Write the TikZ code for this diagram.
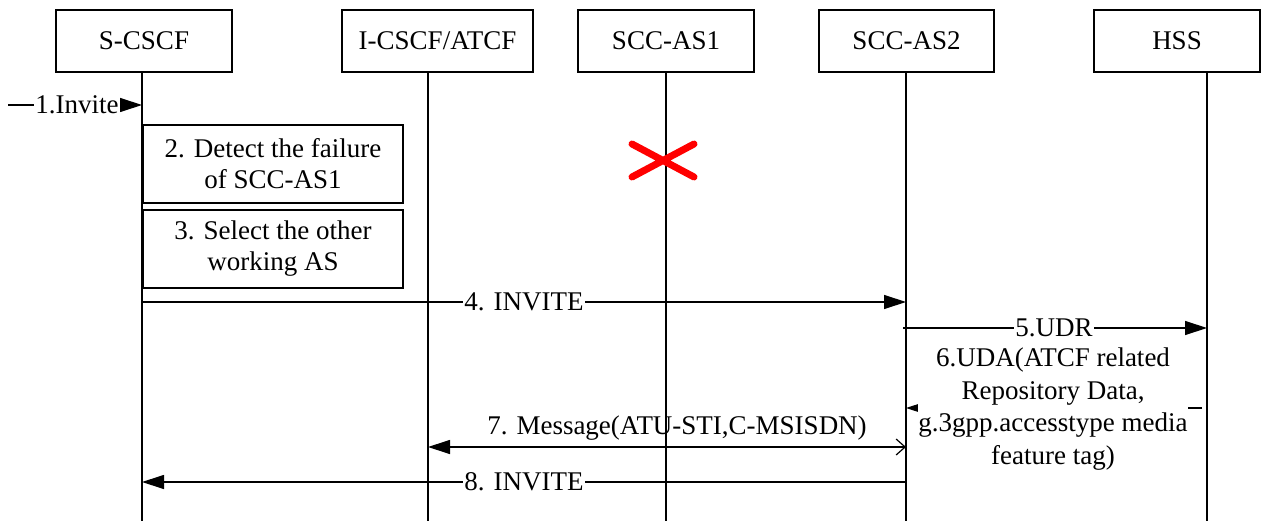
\documentclass[tikz,border=0pt]{standalone}
\usepackage{fontspec}
\setmainfont{Liberation Serif}
\usetikzlibrary{arrows.meta}
\begin{document}
\begin{tikzpicture}[x=1pt,y=-1pt,
  font=\fontsize{27}{31}\selectfont,
  ent/.style={draw, line width=1.2pt, minimum height=62pt, inner sep=0pt},
  procbox/.style={draw, line width=1.2pt, minimum width=260pt, minimum height=78pt, inner sep=0pt, align=center},
  life/.style={line width=1.2pt},
  msg/.style={line width=1.2pt, -{Triangle[length=22pt,width=14pt]}},
  lbl/.style={fill=white, inner xsep=1pt, inner ysep=0pt},
  plain/.style={inner sep=0pt}]
\useasboundingbox (0,0) rectangle (1265,521);

% entities
\node[ent, minimum width=176pt] (scscf) at (144,41) {S-CSCF};
\node[ent, minimum width=191pt] (icscf) at (437.5,41) {I-CSCF/ATCF};
\node[ent, minimum width=176pt] (as1) at (666,41) {SCC-AS1};
\node[ent, minimum width=175pt] (as2) at (906.5,41) {SCC-AS2};
\node[ent, minimum width=166pt] (hss) at (1177,41) {HSS};

% lifeline ends
\coordinate (b1) at (142,521);
\coordinate (b2) at (428,521);
\coordinate (b3) at (666,521);
\coordinate (b4) at (906,521);
\coordinate (b5) at (1207,521);
\draw[life] (scscf.south -| b1) -- (b1);
\draw[life] (icscf.south -| b2) -- (b2);
\draw[life] (as1.south -| b3) -- (b3);
\draw[life] (as2.south -| b4) -- (b4);
\draw[life] (hss.south -| b5) -- (b5);

% failure cross
\draw[red, line width=7pt, line cap=round] (632,144) -- (694,177) (694,144) -- (632,177);

% 1
\coordinate (m1a) at (8,105);
\coordinate (m1b) at (142,105);
\draw[msg] (m1a) -- (m1b);
\node[lbl] (l1) at (77,105) {1.Invite};

% 2, 3
\node[procbox] (p2) at (273,164) {2. Detect the failure\\of SCC-AS1};
\node[procbox] (p3) at (273,249) {3. Select the other\\working AS};

% 4
\coordinate (m4a) at (142,302);
\coordinate (m4b) at (906,302);
\draw[msg] (m4a) -- (m4b);
\node[lbl] (l4) at (524,302) {4. INVITE};

% 5
\coordinate (m5a) at (903,328);
\coordinate (m5b) at (1207,328);
\draw[msg] (m5a) -- (m5b);
\node[lbl] (l5) at (1054,328) {5.UDR};

% 6
\coordinate (m6a) at (1202,408);
\coordinate (m6b) at (906,408);
\draw[msg] (m6a) -- (m6b);
\node[fill=white, inner sep=0pt, align=center, font=\fontsize{27}{32.5}\selectfont] (l6) at (1053,409)
  {6.UDA(ATCF related\\Repository Data,\\g.3gpp.accesstype media\\feature tag)};

% 7
\coordinate (m7a) at (428,447);
\coordinate (m7b) at (906,447);
\draw[line width=1.2pt, {Triangle[length=22pt,width=14pt]}-{Straight Barb[length=9pt,width=16pt]}] (m7a) -- (m7b);
\node[plain] (l7) at (677,428) {7. Message(ATU-STI,C-MSISDN)};

% 8
\coordinate (m8a) at (906,482);
\coordinate (m8b) at (142,482);
\draw[msg] (m8a) -- (m8b);
\node[lbl] (l8) at (524,482) {8. INVITE};
\end{tikzpicture}
\end{document}
